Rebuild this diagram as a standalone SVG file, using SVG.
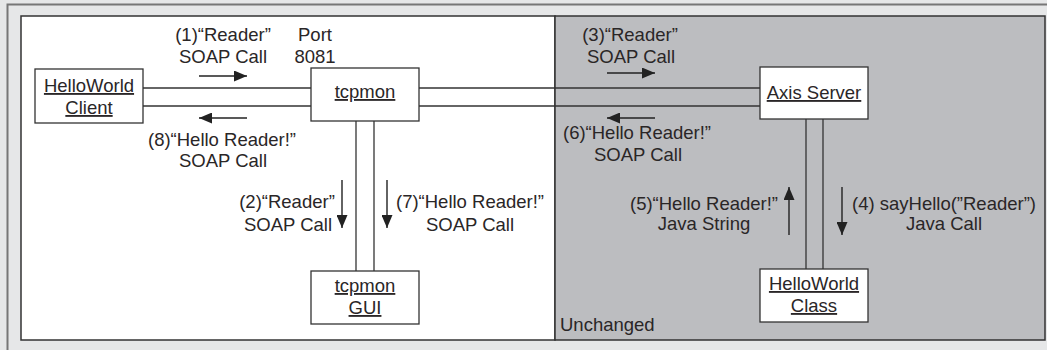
<svg xmlns="http://www.w3.org/2000/svg" width="1047" height="350" viewBox="0 0 1047 350">
<style>
text{font-family:"Liberation Sans",Arial,sans-serif;font-size:18.5px;fill:#2a2627;text-anchor:middle}
.u{text-decoration:underline}
.node{fill:#fff;stroke:#333;stroke-width:1.3}
.conn{stroke:#333;stroke-width:1.3;fill:none}
.arr{stroke:#222;stroke-width:1.4;fill:none;marker-end:url(#ah)}
</style>
<defs>
<marker id="ah" viewBox="0 0 13 11" refX="13" refY="5.5" markerWidth="13" markerHeight="11" markerUnits="userSpaceOnUse" orient="auto">
<path d="M0,0 L13,5.5 L0,11 Z" fill="#222"/>
</marker>
</defs>
<rect x="0" y="0" width="1047" height="350" fill="#e6e7e8"/>
<path d="M7.5,350 V4.5 H1047" fill="none" stroke="#777" stroke-width="2"/>
<g id="panels">
<rect x="21" y="16" width="534" height="324" fill="#fff" stroke="#333" stroke-width="1.5"/>
<rect x="555" y="16" width="490" height="324" fill="#bcbdc0" stroke="#333" stroke-width="1.5"/>
<text x="560" y="331" style="text-anchor:start">Unchanged</text>
</g>
<g id="connectors">
<line class="conn" x1="143" y1="88" x2="311" y2="88"/>
<line class="conn" x1="143" y1="106" x2="311" y2="106"/>
<line class="conn" x1="419" y1="88" x2="760" y2="88"/>
<line class="conn" x1="419" y1="106" x2="760" y2="106"/>
<line class="conn" x1="356" y1="121" x2="356" y2="271"/>
<line class="conn" x1="374" y1="121" x2="374" y2="271"/>
<line class="conn" x1="806" y1="119" x2="806" y2="269"/>
<line class="conn" x1="823" y1="119" x2="823" y2="269"/>
<line class="arr" x1="199" y1="76" x2="247" y2="76"/>
<line class="arr" x1="247" y1="118" x2="199" y2="118"/>
<line class="arr" x1="607" y1="73" x2="655" y2="73"/>
<line class="arr" x1="655" y1="118" x2="607" y2="118"/>
<line class="arr" x1="342" y1="180" x2="342" y2="228"/>
<line class="arr" x1="387" y1="180" x2="387" y2="228"/>
<line class="arr" x1="789" y1="235" x2="789" y2="187"/>
<line class="arr" x1="842" y1="187" x2="842" y2="235"/>
</g>
<g id="labels">
<text x="223" y="41">(1)“Reader”</text>
<text x="223" y="63">SOAP Call</text>
<text x="315" y="41">Port</text>
<text x="315" y="63">8081</text>
<text x="222" y="146">(8)“Hello Reader!”</text>
<text x="223" y="167">SOAP Call</text>
<text x="630" y="41">(3)“Reader”</text>
<text x="631" y="63">SOAP Call</text>
<text x="637" y="139">(6)“Hello Reader!”</text>
<text x="638" y="161">SOAP Call</text>
<text x="287" y="208">(2)“Reader”</text>
<text x="288" y="231">SOAP Call</text>
<text x="470" y="208">(7)“Hello Reader!”</text>
<text x="470" y="231">SOAP Call</text>
<text x="704" y="210">(5)“Hello Reader!”</text>
<text x="704" y="230">Java String</text>
<text x="944" y="210">(4) sayHello(”Reader”)</text>
<text x="944" y="230">Java Call</text>
</g>
<g id="client">
<rect class="node" x="35" y="69" width="108" height="54"/>
<text class="u" x="89" y="92">HelloWorld</text>
<text class="u" x="89" y="114">Client</text>
</g>
<g id="tcpmon">
<rect class="node" x="311" y="68" width="108" height="53"/>
<text class="u" x="365" y="98">tcpmon</text>
</g>
<g id="axis">
<rect class="node" x="760" y="67" width="108" height="52"/>
<text class="u" x="814" y="99">Axis Server</text>
</g>
<g id="gui">
<rect class="node" x="311" y="271" width="108" height="53"/>
<text class="u" x="365" y="292">tcpmon</text>
<text class="u" x="365" y="314">GUI</text>
</g>
<g id="class">
<rect class="node" x="760" y="269" width="108" height="53"/>
<text class="u" x="814" y="290">HelloWorld</text>
<text class="u" x="814" y="312">Class</text>
</g>
</svg>
